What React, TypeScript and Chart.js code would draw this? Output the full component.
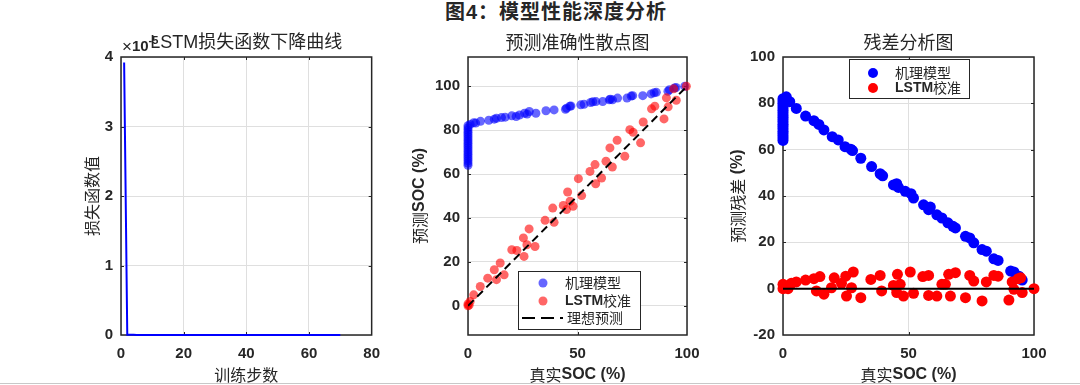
import React, { useEffect, useRef } from 'react';
import { Chart, registerables } from 'chart.js';

Chart.register(...registerables);

const SANS = '"Liberation Sans", Arial, "Noto Sans CJK SC", sans-serif';
const CJK = '"Noto Sans CJK SC", "Liberation Sans", sans-serif';
const INK = '#262626';
const GRID = '#dfdfdf';

// ---------- Data: LSTM loss curve ----------
const lossSteps = [
  1, 2, 3, 4, 5, 6, 7, 8, 9, 10, 11, 12, 13, 14, 15, 16, 17, 18, 19, 20,
  21, 22, 23, 24, 25, 26, 27, 28, 29, 30, 31, 32, 33, 34, 35, 36, 37, 38, 39, 40,
  41, 42, 43, 44, 45, 46, 47, 48, 49, 50, 51, 52, 53, 54, 55, 56, 57, 58, 59, 60,
  61, 62, 63, 64, 65, 66, 67, 68, 69, 70,
];
const lossValues = [
  3.92e-5, 4.1e-8, 2.6e-8, 1.9e-8, 1.5e-8, 1.2e-8, 1.0e-8, 9e-9, 8e-9, 7e-9,
  6.5e-9, 6e-9, 5.6e-9, 5.2e-9, 4.9e-9, 4.6e-9, 4.3e-9, 4.1e-9, 3.9e-9, 3.7e-9,
  3.5e-9, 3.4e-9, 3.2e-9, 3.1e-9, 3.0e-9, 2.9e-9, 2.8e-9, 2.7e-9, 2.6e-9, 2.5e-9,
  2.4e-9, 2.4e-9, 2.3e-9, 2.2e-9, 2.2e-9, 2.1e-9, 2.0e-9, 2.0e-9, 1.9e-9, 1.9e-9,
  1.8e-9, 1.8e-9, 1.7e-9, 1.7e-9, 1.7e-9, 1.6e-9, 1.6e-9, 1.5e-9, 1.5e-9, 1.5e-9,
  1.4e-9, 1.4e-9, 1.4e-9, 1.3e-9, 1.3e-9, 1.3e-9, 1.3e-9, 1.2e-9, 1.2e-9, 1.2e-9,
  1.2e-9, 1.1e-9, 1.1e-9, 1.1e-9, 1.1e-9, 1.0e-9, 1.0e-9, 1.0e-9, 1.0e-9, 1.0e-9,
];
const lossXTicks = [0, 20, 40, 60, 80];
const lossYTicks = [0, 1e-5, 2e-5, 3e-5, 4e-5];

// ---------- Data: prediction scatter ----------
const mechTrue = [
  0, 0, 0, 0, 0, 0, 0, 0, 0, 0, 0, 0, 0, 0, 0, 0, 0, 0, 0,
  1, 2.6, 3.5, 5.7, 9.5, 12, 13, 15.3, 17, 20, 22, 23.5, 25.8, 27, 28, 31, 35.6, 39.3, 44.5, 45,
  46.5, 47, 51.5, 53, 56, 57, 58.4, 61.5, 64.5, 65, 66, 68.3, 72.6, 74.5, 75.2, 79.8, 83.6, 85, 86,
  91.3, 92, 94.3, 95, 99,
];
const mechPred = [
  64, 65, 66, 67, 68, 69, 70, 71, 72, 73, 74, 75, 76, 77, 78, 79, 80, 81, 82,
  82.6, 83.4, 83.2, 84, 84.5, 85, 85.4, 85.7, 85.9, 86.5, 86.2, 86.9, 87.7, 87.3, 88.5, 87.7, 88.8, 89.2, 89.5, 90,
  90.9, 91, 91.5, 91.8, 92.6, 92.9, 93, 93, 93.8, 94.1, 93.8, 94.6, 94.6, 95.5, 95.7, 95.7, 96.5, 97, 97.2,
  97.7, 98.4, 99.2, 99.4, 100,
];
const lstmTrue = [
  0, 0, 0.5, 1, 2.6, 5.6, 9, 12, 13, 14.7, 16.5, 20, 22.3, 25.3, 25.6, 26.9, 27.9, 30.6, 35.2, 38.7,
  39.3, 43.5, 45, 45.5, 46.6, 48, 50.4, 51.9, 55.7, 58, 58.3, 61, 63, 64.8, 65.9, 68.1, 71.6, 73.9, 75.4,
  78.8, 80, 83.8, 85.3, 89.5, 90.6, 91.4, 93.9, 95.1, 99.7,
];
const lstmPred = [
  0, 0.8, 0.3, 2, 5, 8.8, 12.6, 16.4, 11.9, 19.5, 14.1, 25.5, 25.2, 30.9, 22.5, 27.8, 35, 27, 38.9, 44.5,
  38, 45.7, 43.8, 51.8, 47.6, 45.3, 57.9, 50.2, 61.2, 64.3, 55.6, 58.2, 65.8, 71.9, 63.2, 75.4, 68.1, 80.2, 79,
  74.2, 83.7, 89.7, 90.9, 85.1, 94.7, 90.6, 98.8, 93.6, 100,
];
const idealX = [0, 100];
const idealY = [0, 100];
const socXTicks = [0, 50, 100];
const predYTicks = [0, 20, 40, 60, 80, 100];

// ---------- Data: residuals ----------
const resBlueX = [
  0, 0, 0, 0, 0, 0, 0, 0, 0, 0, 0, 0, 0, 0, 0, 0, 0, 0, 0,
  1.3, 2.7, 5.3, 9, 12.3, 14.3, 16.3, 19.6, 22, 24.7, 27, 27.7, 31, 35.3, 38.7, 39.7, 44, 45.3, 46, 48.7,
  51, 52, 56, 58, 58.7, 61.3, 63.3, 65.7, 67.7, 68.7, 72.7, 74.4, 76, 79.3, 81, 84, 85.7, 90.7, 92, 94, 95.3,
];
const resBlueY = [
  64, 65, 66, 67, 68, 69, 70, 71, 72, 73, 74, 75, 76, 77, 78, 79, 80, 81, 82,
  82.8, 80.7, 77.8, 74.5, 72.5, 70.9, 68.5, 65.6, 64.2, 61.3, 60.2, 59.6, 56.3, 52.7, 49.6, 48.7, 44.8, 45.3, 43.7, 42,
  41, 39.1, 36.2, 34.1, 35.2, 31.9, 30.5, 28.4, 26.9, 26.2, 22.6, 21.9, 19.8, 16.9, 16.2, 12.9, 12.2, 7.6, 7.2, 5.4, 3.7,
];
const resRedX = [
  0, 0, 1.3, 2, 3.3, 5.3, 9, 12.3, 13.3, 14.7, 16.3, 19.3, 20.4, 23.3, 25, 25.3, 28, 27.3, 31, 35,
  38.7, 39.3, 44, 45.6, 45.3, 46.7, 48, 50.7, 52, 55.7, 58, 58, 61.3, 63.3, 64.7, 66, 66.7, 68.7, 72.7, 74.4,
  76, 79.3, 81, 84, 85.7, 90, 91.3, 92, 93.7, 94.7, 95.3, 100,
];
const resRedY = [
  1.9, 0, 1.1, 0, 2.3, 2.9, 3.7, 4.3, -1, 5.2, -2.4, 0.4, 4.7, 2.3, 5.4, -3.2, 7.2, 0.4, -3.9, 4,
  5.7, -1, 1.4, 6.2, -1.7, 1.9, -3.2, 7.2, -2, 5.2, 5.7, -2.9, -3.2, 1.9, 1.9, 6.2, -3.2, 6.9, -3.9, 5.7,
  3.3, -5.3, 2.9, 5.7, 5.4, -4.9, 2.9, -0.3, 4.3, 4.7, -1.7, 0,
];
const zeroX = [0, 100];
const zeroY = [0, 0];
const resYTicks = [-20, 0, 20, 40, 60, 80, 100];

const pts = (xs: number[], ys: number[]) => xs.map((x, i) => ({ x, y: ys[i] }));

type Run = { text: string; font: string; dy?: number };

function drawRuns(ctx: CanvasRenderingContext2D, runs: Run[], x: number, y: number, rotate = false, align: 'center' | 'left' = 'center') {
  ctx.save();
  ctx.translate(x, y);
  if (rotate) ctx.rotate(-Math.PI / 2);
  ctx.textBaseline = 'middle';
  ctx.textAlign = 'left';
  ctx.fillStyle = INK;
  let total = 0;
  for (const r of runs) {
    ctx.font = r.font;
    total += ctx.measureText(r.text).width;
  }
  let pos = align === 'left' ? 0 : -total / 2;
  for (const r of runs) {
    ctx.font = r.font;
    ctx.fillText(r.text, pos, r.dy || 0);
    pos += ctx.measureText(r.text).width;
  }
  ctx.restore();
}

type LegendRow = { kind: 'dot' | 'dash'; color: string; radius?: number; dy: number; runs: Run[] };
type LegendCfg = { x: number; y: number; w: number; h: number; markerX: number; textX: number; rows: LegendRow[] };

type DecorCfg = {
  title: Run[];
  titleY: number;
  xTitle: Run[];
  xTitleY: number;
  yTitle: Run[];
  yTitleX: number;
  exponent?: boolean;
  legend?: LegendCfg;
};

const makeDecor = (cfg: DecorCfg) => ({
  id: 'decor',
  beforeDatasetsDraw(chart: any) {
    const { ctx, chartArea: a, scales } = chart;
    ctx.save();
    ctx.strokeStyle = INK;
    ctx.lineWidth = 1.5;
    ctx.strokeRect(a.left, a.top, a.right - a.left, a.bottom - a.top);
    ctx.lineWidth = 1;
    const L = 3;
    ctx.beginPath();
    for (const t of scales.x.ticks) {
      const px = Math.round(scales.x.getPixelForValue(t.value)) + 0.5;
      if (px <= a.left + 2 || px >= a.right - 2) continue;
      ctx.moveTo(px, a.bottom);
      ctx.lineTo(px, a.bottom - L);
      ctx.moveTo(px, a.top);
      ctx.lineTo(px, a.top + L);
    }
    for (const t of scales.y.ticks) {
      const py = Math.round(scales.y.getPixelForValue(t.value)) + 0.5;
      if (py <= a.top + 2 || py >= a.bottom - 2) continue;
      ctx.moveTo(a.left, py);
      ctx.lineTo(a.left + L, py);
      ctx.moveTo(a.right, py);
      ctx.lineTo(a.right - L, py);
    }
    ctx.stroke();
    ctx.restore();
  },
  afterDraw(chart: any) {
    const { ctx, chartArea: a } = chart;
    const cx = (a.left + a.right) / 2;
    const cy = (a.top + a.bottom) / 2;
    if (cfg.exponent) {
      drawRuns(ctx, [
        { text: '×', font: `17px ${SANS}` },
        { text: '10', font: `bold 15px ${SANS}` },
        { text: '-5', font: `bold 11px ${SANS}`, dy: -6 },
      ], a.left + 1, 17, false, 'left');
    }
    drawRuns(ctx, cfg.title, cx, cfg.titleY);
    drawRuns(ctx, cfg.xTitle, cx, cfg.xTitleY);
    drawRuns(ctx, cfg.yTitle, cfg.yTitleX, cy, true);
    const lg = cfg.legend;
    if (lg) {
      const bx = a.left + lg.x;
      const by = a.top + lg.y;
      ctx.save();
      ctx.fillStyle = '#ffffff';
      ctx.fillRect(bx, by, lg.w, lg.h);
      ctx.strokeStyle = INK;
      ctx.lineWidth = 1;
      ctx.strokeRect(bx + 0.5, by + 0.5, lg.w, lg.h);
      for (const r of lg.rows) {
        const ry = by + r.dy;
        if (r.kind === 'dot') {
          ctx.fillStyle = r.color;
          ctx.beginPath();
          ctx.arc(bx + lg.markerX, ry, r.radius || 4.5, 0, Math.PI * 2);
          ctx.fill();
          drawRuns(ctx, r.runs, bx + lg.textX, ry, false, 'left');
        } else {
          ctx.strokeStyle = r.color;
          ctx.lineWidth = 2;
          ctx.setLineDash([13, 6]);
          ctx.beginPath();
          ctx.moveTo(bx + 4, ry);
          ctx.lineTo(bx + 45, ry);
          ctx.stroke();
          ctx.setLineDash([]);
          drawRuns(ctx, r.runs, bx + lg.textX + 2, ry, false, 'left');
        }
      }
      ctx.restore();
    }
  },
});

function linScale(min: number, max: number, ticks: number[], fmt: (v: number) => string, axis: 'x' | 'y', fit: number) {
  return {
    type: 'linear',
    position: axis === 'x' ? 'bottom' : 'left',
    min,
    max,
    afterBuildTicks: (s: any) => {
      s.ticks = ticks.map((v) => ({ value: v }));
    },
    afterFit: (s: any) => {
      if (axis === 'x') s.height = fit;
      else s.width = fit;
    },
    grid: { color: GRID, lineWidth: 1, drawTicks: false },
    border: { display: false },
    ticks: {
      font: { family: SANS, size: 15, weight: 'bold' },
      color: INK,
      padding: axis === 'x' ? 10 : 8,
      maxRotation: 0,
      autoSkip: false,
      callback: (v: any) => fmt(Number(v)),
    },
  };
}

const baseOptions = (padRight: number) => ({
  responsive: false,
  animation: false,
  events: [],
  layout: { padding: { top: 27, right: padRight, left: 0, bottom: 0 } },
  plugins: { legend: { display: false }, tooltip: { enabled: false }, title: { display: false } },
});

const titleFont = `18px ${SANS}`;
const axisCjk = `16px ${CJK}`;
const axisBold = `bold 16px ${SANS}`;

function lossConfig(): any {
  return {
    type: 'scatter',
    data: {
      datasets: [
        {
          data: pts(lossSteps, lossValues),
          showLine: true,
          borderColor: '#0000ff',
          borderWidth: 2,
          pointRadius: 0,
          clip: 4,
        },
      ],
    },
    options: {
      ...baseOptions(18),
      scales: {
        x: linScale(0, 80, lossXTicks, (v) => String(v), 'x', 50),
        y: linScale(0, 4e-5, lossYTicks, (v) => String(Math.round(v * 1e5)), 'y', 61),
      },
    },
    plugins: [
      makeDecor({
        title: [{ text: 'LSTM损失函数下降曲线', font: titleFont }],
        titleY: 13,
        xTitle: [{ text: '训练步数', font: axisCjk }],
        xTitleY: 345,
        yTitle: [{ text: '损失函数值', font: axisCjk }],
        yTitleX: 32,
        exponent: true,
      }),
    ],
  };
}

function predConfig(): any {
  return {
    type: 'scatter',
    data: {
      datasets: [
        {
          label: '理想预测',
          data: pts(idealX, idealY),
          showLine: true,
          borderColor: '#000000',
          borderWidth: 2,
          borderDash: [8, 5],
          pointRadius: 0,
          order: 0,
        },
        {
          label: 'LSTM校准',
          data: pts(lstmTrue, lstmPred),
          backgroundColor: 'rgba(255,0,0,0.6)',
          borderWidth: 0,
          pointRadius: 4.5,
          clip: 8,
          order: 1,
        },
        {
          label: '机理模型',
          data: pts(mechTrue, mechPred),
          backgroundColor: 'rgba(0,0,255,0.6)',
          borderWidth: 0,
          pointRadius: 4.5,
          clip: 8,
          order: 2,
        },
      ],
    },
    options: {
      ...baseOptions(33),
      scales: {
        x: linScale(0, 100, socXTicks, (v) => String(v), 'x', 50),
        y: linScale(-13.3, 113.3, predYTicks, (v) => String(v), 'y', 68),
      },
    },
    plugins: [
      makeDecor({
        title: [{ text: '预测准确性散点图', font: titleFont }],
        titleY: 14,
        xTitle: [{ text: '真实', font: axisCjk }, { text: 'SOC (%)', font: axisBold }],
        xTitleY: 345,
        yTitle: [{ text: '预测', font: axisCjk }, { text: 'SOC (%)', font: axisBold }],
        yTitleX: 20,
        legend: {
          x: 50,
          y: 214,
          w: 122,
          h: 58,
          markerX: 25,
          textX: 47,
          rows: [
            { kind: 'dot', color: 'rgba(0,0,255,0.6)', radius: 4.5, dy: 12, runs: [{ text: '机理模型', font: `14px ${CJK}` }] },
            { kind: 'dot', color: 'rgba(255,0,0,0.6)', radius: 4.5, dy: 30, runs: [{ text: 'LSTM', font: `bold 14px ${SANS}` }, { text: '校准', font: `14px ${CJK}` }] },
            { kind: 'dash', color: '#000000', dy: 47, runs: [{ text: '理想预测', font: `14px ${CJK}` }] },
          ],
        },
      }),
    ],
  };
}

function resConfig(): any {
  return {
    type: 'scatter',
    data: {
      datasets: [
        {
          label: 'zero',
          data: pts(zeroX, zeroY),
          showLine: true,
          borderColor: '#000000',
          borderWidth: 2,
          pointRadius: 0,
          order: 0,
        },
        {
          label: 'LSTM校准',
          data: pts(resRedX, resRedY),
          backgroundColor: '#ff0000',
          borderWidth: 0,
          pointRadius: 5.5,
          clip: 8,
          order: 1,
        },
        {
          label: '机理模型',
          data: pts(resBlueX, resBlueY),
          backgroundColor: '#0000ff',
          borderWidth: 0,
          pointRadius: 5.5,
          clip: 8,
          order: 2,
        },
      ],
    },
    options: {
      ...baseOptions(46),
      scales: {
        x: linScale(0, 100, socXTicks, (v) => String(v), 'x', 50),
        y: linScale(-20, 100, resYTicks, (v) => String(v), 'y', 63),
      },
    },
    plugins: [
      makeDecor({
        title: [{ text: '残差分析图', font: titleFont }],
        titleY: 14,
        xTitle: [{ text: '真实', font: axisCjk }, { text: 'SOC (%)', font: axisBold }],
        xTitleY: 345,
        yTitle: [{ text: '预测残差', font: axisCjk }, { text: ' (%)', font: axisBold }],
        yTitleX: 18,
        legend: {
          x: 66,
          y: 2,
          w: 120,
          h: 39,
          markerX: 24,
          textX: 46,
          rows: [
            { kind: 'dot', color: '#0000ff', radius: 5, dy: 14, runs: [{ text: '机理模型', font: `14px ${CJK}` }] },
            { kind: 'dot', color: '#ff0000', radius: 5, dy: 29, runs: [{ text: 'LSTM', font: `bold 14px ${SANS}` }, { text: '校准', font: `14px ${CJK}` }] },
          ],
        },
      }),
    ],
  };
}

function ChartBox({ left, top, width, height, make }: { left: number; top: number; width: number; height: number; make: () => any }) {
  const ref = useRef<HTMLCanvasElement | null>(null);
  useEffect(() => {
    if (!ref.current) return;
    const c = new Chart(ref.current, make());
    return () => c.destroy();
  }, []);
  return (
    <canvas
      ref={ref}
      width={width}
      height={height}
      style={{ position: 'absolute', left, top, width, height, display: 'block' }}
    />
  );
}

export default function App() {
  return (
    <div style={{ position: 'absolute', left: 0, top: 0, width: 1080, height: 385, background: '#ffffff', overflow: 'hidden' }}>
      <div
        style={{
          position: 'absolute',
          left: 356,
          top: 0,
          width: 400,
          height: 24,
          lineHeight: '24px',
          textAlign: 'center',
          fontFamily: SANS,
          fontWeight: 'bold',
          fontSize: 20,
          letterSpacing: 1,
          color: INK,
        }}
      >
        图4：模型性能深度分析
      </div>
      <ChartBox left={60} top={30} width={330} height={355} make={lossConfig} />
      <ChartBox left={400} top={30} width={320} height={355} make={predConfig} />
      <ChartBox left={720} top={30} width={360} height={355} make={resConfig} />
      <div style={{ position: 'absolute', left: 0, top: 383, width: 1080, height: 1, background: '#c8c8c8' }} />
    </div>
  );
}
